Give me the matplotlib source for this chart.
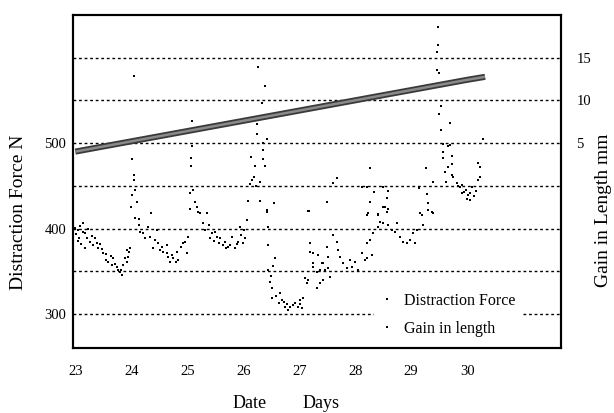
import numpy as np
import matplotlib
matplotlib.use('Agg')
import matplotlib.pyplot as plt
from matplotlib.lines import Line2D

plt.rcParams['font.family'] = ['Liberation Serif', 'DejaVu Serif']

# distraction force readings (day, N)
force_day = [
    23.00, 23.02, 23.04, 23.05, 23.07, 23.09, 23.11, 23.14, 23.14, 23.18, 23.18, 23.21, 23.23,
    23.27, 23.29, 23.32, 23.36, 23.39, 23.41, 23.45, 23.48, 23.50, 23.54, 23.55, 23.59, 23.63,
    23.66, 23.68, 23.71, 23.75, 23.77, 23.80, 23.82, 23.84, 23.86, 23.88, 23.93, 23.93, 23.95,
    23.96, 23.98,
    24.04, 24.02, 24.04, 24.04, 24.07, 24.02, 24.11, 24.00, 24.13, 24.36, 24.07, 24.13, 24.16,
    24.21, 24.25, 24.29, 24.34, 24.43, 24.46, 24.48, 24.38, 24.52, 24.55, 24.57, 24.63, 24.64,
    24.66, 24.70, 24.73, 24.75, 24.79, 24.82, 24.84, 24.88, 24.93, 24.96, 25.00, 25.02,
    25.09, 25.09, 25.07, 25.07, 25.11, 25.05, 25.14, 25.18, 25.20, 25.36, 25.04, 25.23, 25.29,
    25.32, 25.38, 25.41, 25.45, 25.48, 25.50, 25.54, 25.57, 25.59, 25.63, 25.68, 25.70, 25.73,
    25.77, 25.80, 25.86, 25.88, 25.91, 25.95, 25.96, 26.00, 26.02, 26.04, 26.07,
    26.27, 26.39, 26.34, 26.25, 26.25, 26.43, 26.36, 26.36, 26.14, 26.36, 26.21, 26.38, 26.16,
    26.30, 26.09, 26.30, 26.55, 26.43, 26.12, 26.19, 26.23,
    26.43, 26.45, 26.45, 26.57, 26.45, 26.48, 26.50, 26.52, 26.52, 26.54, 26.59, 26.64, 26.66,
    26.70, 26.73, 26.75, 26.79, 26.80, 26.84, 26.89, 26.93, 26.98, 27.02, 27.02, 27.05, 27.07,
    27.11, 27.14, 27.16, 27.16, 27.18, 27.20, 27.20, 27.25, 27.25, 27.25, 27.32, 27.32, 27.34,
    27.38, 27.38, 27.41, 27.43, 27.43, 27.46, 27.50, 27.50, 27.52, 27.52, 27.55, 27.61, 27.61,
    27.68, 27.68, 27.70, 27.73, 27.79, 27.86, 27.91, 27.95, 28.00, 28.05,
    28.13, 28.13, 28.18, 28.21, 28.21, 28.21, 28.21, 28.23, 28.27, 28.27, 28.27, 28.30, 28.32,
    28.34, 28.41, 28.41, 28.41, 28.45, 28.50, 28.50, 28.50, 28.54, 28.57, 28.57, 28.59, 28.59,
    28.59, 28.66, 28.71, 28.75, 28.80, 28.86, 28.93, 28.98,
    29.04, 29.07, 29.11, 29.14, 29.16, 29.20, 29.21, 29.27, 29.29, 29.30, 29.30, 29.38, 29.39,
    29.39,
    29.48, 29.48, 29.46, 29.46, 29.50, 29.54, 29.50, 29.54, 29.70, 29.57, 29.70, 29.66, 29.57,
    29.73, 29.57, 29.66, 29.73, 29.61, 29.73, 29.75, 29.63, 29.82, 29.84, 29.88, 29.91, 29.91,
    29.95, 29.98, 30.00, 30.02, 30.05, 30.05, 30.09, 30.13, 30.16, 30.20, 30.20, 30.23, 30.23,
    30.29,
]
force_N = [
    401, 394, 385, 398, 389, 403, 382, 407, 396, 395, 377, 389, 400,
    384, 391, 381, 389, 383, 377, 382, 376, 371, 363, 370, 361, 368,
    357, 366, 359, 355, 352, 349, 352, 346, 357, 366, 361, 375, 367,
    373, 377,
    578, 481, 463, 457, 445, 439, 431, 425, 411, 418, 412, 404, 396,
    395, 389, 402, 390, 387, 398, 383, 377, 375, 378, 373, 381, 371,
    367, 361, 369, 366, 361, 373, 363, 378, 383, 384, 371, 390,
    526, 497, 483, 473, 445, 442, 431, 425, 419, 418, 423, 418, 406,
    398, 404, 389, 395, 385, 396, 390, 383, 389, 381, 384, 377, 378,
    381, 390, 377, 382, 384, 402, 392, 383, 398, 389, 410,
    589, 567, 547, 522, 511, 505, 500, 492, 484, 481, 473, 473, 457,
    455, 432, 432, 430, 419, 452, 460, 450,
    422, 402, 381, 366, 352, 337, 344, 330, 319, 356, 321, 313, 325,
    316, 314, 308, 312, 305, 308, 311, 313, 308, 316, 312, 307, 319,
    342, 336, 340, 421, 421, 383, 373, 371, 360, 355, 349, 330, 369,
    352, 336, 360, 360, 340, 352, 378, 431, 367, 354, 343, 392, 453,
    459, 384, 375, 367, 360, 354, 363, 355, 361, 352,
    371, 449, 363, 366, 383, 416, 449, 418, 387, 471, 431, 369, 395,
    443, 402, 416, 417, 408, 407, 449, 425, 425, 419, 436, 404, 444,
    423, 398, 396, 407, 390, 384, 383, 387,
    395, 383, 398, 447, 418, 416, 404, 471, 440, 422, 430, 419, 418,
    455,
    636, 615, 607, 586, 582, 543, 534, 515, 524, 499, 498, 496, 490,
    485, 483, 472, 476, 466, 463, 460, 455, 453, 450, 448, 451, 442,
    443, 445, 435, 439, 442, 433, 448, 438, 444, 477, 457, 472, 460,
    505,
]

# gain in length (day, mm)
gain_day = [23.0, 24.0, 25.0, 26.0, 27.0, 28.0, 29.0, 30.0, 30.32]
gain_mm = [4.0, 5.2, 6.4, 7.6, 8.8, 10.0, 11.2, 12.4, 12.75]

day_ticks = [23, 24, 25, 26, 27, 28, 29, 30]
grid_N = [300, 350, 400, 450, 500, 550, 600]
grid_labels = ['300', '', '400', '', '500', '', '']

fig = plt.figure(figsize=(6.14, 4.13), dpi=100)
ax = fig.add_axes([0.119, 0.157, 0.795, 0.807])

for g in grid_N:
    ax.axhline(g, color='black', lw=1.0, ls=(0, (2, 2)), zorder=1)

ax.plot(force_day, force_N, ls='none', marker='s', ms=2.0, color='black', mew=0, zorder=3)

ax.set_xlim(22.96, 31.68)
ax.set_ylim(260, 650)
ax.set_xticks(day_ticks)
ax.set_yticks(grid_N)
ax.set_yticklabels(grid_labels)
ax.tick_params(axis='y', length=0, labelsize=10.5, pad=5)
ax.tick_params(axis='x', length=0, labelsize=10.5, pad=12)
for s in ax.spines.values():
    s.set_linewidth(1.5)

ax2 = ax.twinx()
ax2.set_ylim(-19, 20)
ax2.plot(gain_day, gain_mm, color='#3a3a3a', lw=4.4, solid_capstyle='butt', zorder=2)
ax2.plot(gain_day, gain_mm, color='#8a8a8a', lw=1.8, solid_capstyle='butt', zorder=2)
ax2.set_yticks([5, 10, 15])
ax2.tick_params(length=0, labelsize=10.5, pad=11)
for s in ax2.spines.values():
    s.set_linewidth(1.5)

fig.text(19 / 614, 1 - 212 / 413, 'Distraction Force N', fontsize=14,
         rotation=90, ha='center', va='center')
fig.text(603 / 614, 1 - 210 / 413, 'Gain in Length mm', fontsize=14,
         rotation=90, ha='center', va='center')
fig.text(250 / 614, 1 - 403 / 413, 'Date', fontsize=13, ha='center', va='center')
fig.text(321 / 614, 1 - 403 / 413, 'Days', fontsize=13, ha='center', va='center')

handles = [Line2D([], [], ls='none', marker='s', ms=2.0, color='black', mew=0),
           Line2D([], [], ls='none', marker='s', ms=2.0, color='black', mew=0)]
leg = ax2.legend(handles, ['Distraction Force', 'Gain in length'], loc='upper left',
                 bbox_to_anchor=(0.6, 0.205), frameon=True, fancybox=False,
                 edgecolor='white', framealpha=1, fontsize=11.5, labelspacing=0.75,
                 handlelength=1.0, handletextpad=0.6, borderpad=0.3)

fig.savefig('out.png', dpi=100)
